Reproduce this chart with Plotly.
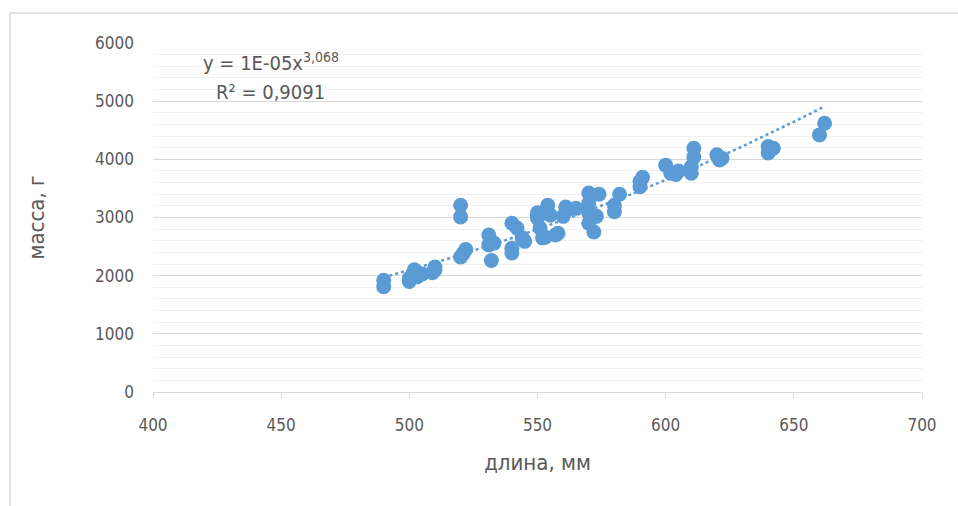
import numpy as np
import plotly.graph_objects as go

# data: length (mm) and mass (g)
length_mm = [490, 490, 500, 500, 501, 502, 503, 505, 509, 510, 510,
             520, 520, 520, 521, 522, 531, 531, 533, 532,
             540, 542, 540, 540, 544, 545,
             550, 550, 550, 551, 552, 554, 555, 553, 557, 558,
             561, 560, 562, 565,
             570, 570, 570, 572, 570, 573, 574,
             580, 580, 582,
             591, 590, 590,
             600, 602, 604, 605,
             611, 611, 610, 610,
             620, 621, 622,
             640, 640, 642,
             660, 662]
mass_g = [1920, 1810, 1900, 1950, 2000, 2100, 1980, 2030, 2050, 2100, 2150,
          3210, 3010, 2320, 2380, 2450, 2700, 2530, 2560, 2260,
          2900, 2820, 2470, 2390, 2650, 2590,
          2990, 3040, 3080, 2820, 2650, 3210, 3040, 2660, 2700, 2730,
          3180, 3020, 3140, 3160,
          3420, 3080, 2900, 2750, 3250, 3020, 3400,
          3100, 3210, 3400,
          3690, 3530, 3620,
          3900, 3760, 3740, 3800,
          4190, 4040, 3870, 3760,
          4080, 3990, 4020,
          4220, 4110, 4190,
          4420, 4620]

x_ticks = [400, 450, 500, 550, 600, 650, 700]
y_ticks = [0, 1000, 2000, 3000, 4000, 5000, 6000]
eq_text = "y = 1E-05x<sup>3,068</sup>"
r2_text = "R² = 0,9091"

# power trendline fitted from data (log-log least squares)
lx = np.log(np.array(length_mm, float))
ly = np.log(np.array(mass_g, float))
b, a = np.polyfit(lx, ly, 1)
xs = np.linspace(min(length_mm), max(length_mm), 120)
ys = np.exp(a) * xs ** b

BLUE = "#5B9BD5"
FONT = "Liberation Sans Narrow, DejaVu Sans Condensed, Arial Narrow, sans-serif"

fig = go.Figure()
fig.add_trace(go.Scatter(x=length_mm, y=mass_g, mode="markers",
                         marker=dict(color=BLUE, size=15, line=dict(width=0)),
                         showlegend=False, hoverinfo="x+y"))
fig.add_trace(go.Scatter(x=xs, y=ys, mode="lines",
                         line=dict(color=BLUE, width=2.5, dash="dot"),
                         showlegend=False, hoverinfo="skip"))

fig.update_layout(
    width=958, height=506,
    margin=dict(l=153, r=36, t=43, b=114),
    paper_bgcolor="white", plot_bgcolor="white",
    font=dict(family=FONT, size=17, color="#595959"),
    xaxis=dict(range=[400, 700], tickvals=x_ticks, showgrid=False,
               zeroline=False, showline=False,
               ticks="outside", ticklen=5, tickcolor="#d9d9d9",
               ticklabelstandoff=13,
               title=dict(text="длина, мм", font=dict(size=22, color="#595959"), standoff=20)),
    yaxis=dict(range=[0, 6000], tickvals=y_ticks, showgrid=True,
               gridcolor="#d9d9d9", gridwidth=1.3,
               zeroline=True, zerolinecolor="#d9d9d9", zerolinewidth=1.3,
               showline=False, ticks="", ticklabelstandoff=18,
               minor=dict(dtick=200, showgrid=True, gridcolor="#f0f0f0", gridwidth=1),
               title=dict(text="масса, г", font=dict(size=22, color="#595959"), standoff=44)),
    annotations=[
        dict(x=446, y=5670, xref="x", yref="y", text=eq_text, showarrow=False,
             font=dict(family=FONT, size=20, color="#595959")),
        dict(x=446, y=5155, xref="x", yref="y", text=r2_text, showarrow=False,
             font=dict(family=FONT, size=20, color="#595959")),
    ],
    shapes=[
        dict(type="line", xref="paper", yref="paper", x0=-0.186, x1=-0.186,
             y0=1.086, y1=-0.33, line=dict(color="#d9d9d9", width=1.5)),
        dict(type="line", xref="paper", yref="paper", x0=-0.186, x1=1.05,
             y0=1.086, y1=1.086, line=dict(color="#d9d9d9", width=1.5)),
    ],
)

fig.write_html("out.html")
